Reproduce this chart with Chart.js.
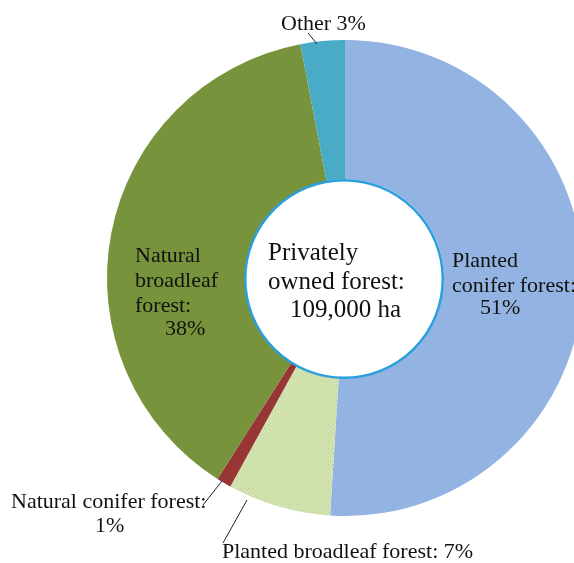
<!DOCTYPE html>
<html>
<head>
<meta charset="utf-8">
<script src="https://cdn.jsdelivr.net/npm/chart.js@4"></script>
<style>
  html, body { margin: 0; padding: 0; background: #fff; overflow: hidden; width: 574px; height: 563px; }
  #wrap { position: relative; width: 690px; height: 563px; }
</style>
</head>
<body>
<div id="wrap"><canvas id="forestChart" width="690" height="563"></canvas></div>
<script>
// shares of privately owned forest, clockwise from 12 o'clock
const categories = ["Planted conifer forest", "Planted broadleaf forest", "Natural conifer forest", "Natural broadleaf forest", "Other"];
const shares = [51, 7, 1, 38, 3];
const sliceColors = ["#93b4e2", null, "#983535", "#77933c", "#4aabc7"];
const centerText = ["Privately", "owned forest:", "109,000 ha"];

// dotted fill for planted broadleaf
function dotPattern() {
    const c = document.createElement('canvas');
    c.width = 4; c.height = 4;
    const g = c.getContext('2d');
    g.fillStyle = '#d3e3b1';
    g.fillRect(0, 0, 4, 4);
    g.fillStyle = '#b7cf87';
    g.fillRect(0, 0, 1, 1);
    g.fillRect(2, 2, 1, 1);
    return g.createPattern(c, 'repeat');
}
sliceColors[1] = dotPattern();

// label text blocks: [line, x, y] on the canvas, plus leader lines
const labelLayout = [
    { lines: [["Planted", 452, 267], ["conifer forest:", 452, 292], ["51%", 480, 314]] },
    { lines: [["Planted broadleaf forest: 7%", 222, 558]], leader: [223, 543, 247, 500] },
    { lines: [["Natural conifer forest:", 11, 508], ["1%", 95, 532]], leader: [203, 505, 222, 481] },
    { lines: [["Natural", 135, 262], ["broadleaf", 135, 287], ["forest:", 135, 312], ["38%", 165, 335]] },
    { lines: [["Other 3%", 281, 30]], leader: [308, 33, 317, 44] }
];

const labelPlugin = {
    id: 'labels',
    afterDraw(chart) {
        const ctx = chart.ctx;
        const arc = chart.getDatasetMeta(0).data[0];
        ctx.save();
        // centre circle
        ctx.beginPath();
        ctx.arc(arc.x - 1, arc.y + 1, arc.innerRadius, 0, Math.PI * 2);
        ctx.fillStyle = '#fff';
        ctx.fill();
        ctx.lineWidth = 2.5;
        ctx.strokeStyle = '#2a9fdc';
        ctx.stroke();

        ctx.fillStyle = '#111';
        ctx.font = '25px "Liberation Serif", "DejaVu Serif", serif';
        ctx.textBaseline = 'alphabetic';
        ctx.fillText(centerText[0], 268, 260);
        ctx.fillText(centerText[1], 268, 289);
        ctx.fillText(centerText[2], 290, 317);

        ctx.font = '22px "Liberation Serif", "DejaVu Serif", serif';
        labelLayout.forEach(function(l) {
            l.lines.forEach(function(t) { ctx.fillText(t[0], t[1], t[2]); });
            if (l.leader) {
                ctx.beginPath();
                ctx.moveTo(l.leader[0], l.leader[1]);
                ctx.lineTo(l.leader[2], l.leader[3]);
                ctx.lineWidth = 1;
                ctx.strokeStyle = '#222';
                ctx.stroke();
            }
        });
        ctx.restore();
    }
};

new Chart("forestChart", {
    type: "doughnut",
    data: {
        labels: categories,
        datasets: [{
            data: shares,
            backgroundColor: sliceColors,
            borderWidth: 0
        }]
    },
    options: {
        responsive: false,
        animation: false,
        cutout: '41.5%',
        layout: { padding: { left: 107, right: 107, top: 40, bottom: 47 } },
        plugins: {
            legend: { display: false },
            tooltip: { enabled: false }
        }
    },
    plugins: [labelPlugin]
});
</script>
</body>
</html>
